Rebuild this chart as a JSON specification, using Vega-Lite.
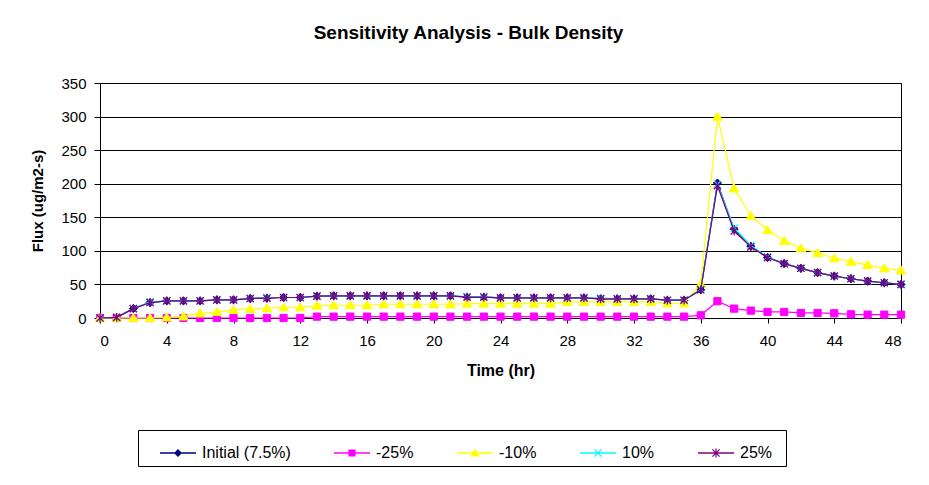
{
  "$schema": "https://vega.github.io/schema/vega-lite/v6.json",
  "width": 801,
  "height": 235,
  "autosize": {"type": "none"},
  "padding": {"left": 100, "top": 83, "right": 28, "bottom": 167},
  "background": "white",
  "title": {"text": "Sensitivity Analysis - Bulk Density", "font": "Liberation Sans", "fontSize": 19, "fontWeight": "bold", "color": "black", "anchor": "middle", "frame": "group", "dx": -32, "baseline": "alphabetic", "offset": 18},
  "datasets": {
    "initial": [
      {"hr":0,"flux":0},{"hr":1,"flux":1},{"hr":2,"flux":14},{"hr":3,"flux":23},{"hr":4,"flux":25.5},{"hr":5,"flux":25.5},{"hr":6,"flux":25.5},{"hr":7,"flux":27},{"hr":8,"flux":27},{"hr":9,"flux":29},
      {"hr":10,"flux":29.5},{"hr":11,"flux":30.5},{"hr":12,"flux":30.5},{"hr":13,"flux":32.5},{"hr":14,"flux":33},{"hr":15,"flux":33},{"hr":16,"flux":33},{"hr":17,"flux":33},{"hr":18,"flux":33},{"hr":19,"flux":33},
      {"hr":20,"flux":33},{"hr":21,"flux":33},{"hr":22,"flux":31},{"hr":23,"flux":31},{"hr":24,"flux":30},{"hr":25,"flux":30},{"hr":26,"flux":30},{"hr":27,"flux":30},{"hr":28,"flux":30},{"hr":29,"flux":30},
      {"hr":30,"flux":28.5},{"hr":31,"flux":28.5},{"hr":32,"flux":28.5},{"hr":33,"flux":28.5},{"hr":34,"flux":26.5},{"hr":35,"flux":26.5},{"hr":36,"flux":42},{"hr":37,"flux":201},{"hr":38,"flux":132},{"hr":39,"flux":107},
      {"hr":40,"flux":90},{"hr":41,"flux":81},{"hr":42,"flux":74},{"hr":43,"flux":67.5},{"hr":44,"flux":62.5},{"hr":45,"flux":58.5},{"hr":46,"flux":55},{"hr":47,"flux":52.5},{"hr":48,"flux":50}
    ],
    "minus25": [
      {"hr":0,"flux":0},{"hr":1,"flux":0},{"hr":2,"flux":0},{"hr":3,"flux":0},{"hr":4,"flux":0},{"hr":5,"flux":0},{"hr":6,"flux":0},{"hr":7,"flux":0},{"hr":8,"flux":0},{"hr":9,"flux":0},
      {"hr":10,"flux":0},{"hr":11,"flux":0},{"hr":12,"flux":0},{"hr":13,"flux":2},{"hr":14,"flux":2},{"hr":15,"flux":2},{"hr":16,"flux":2},{"hr":17,"flux":2},{"hr":18,"flux":2},{"hr":19,"flux":2},
      {"hr":20,"flux":2},{"hr":21,"flux":2},{"hr":22,"flux":2},{"hr":23,"flux":2},{"hr":24,"flux":2},{"hr":25,"flux":2},{"hr":26,"flux":2},{"hr":27,"flux":2},{"hr":28,"flux":2},{"hr":29,"flux":2},
      {"hr":30,"flux":2},{"hr":31,"flux":2},{"hr":32,"flux":2},{"hr":33,"flux":2},{"hr":34,"flux":2},{"hr":35,"flux":2},{"hr":36,"flux":4},{"hr":37,"flux":25},{"hr":38,"flux":14},{"hr":39,"flux":11},
      {"hr":40,"flux":9},{"hr":41,"flux":9},{"hr":42,"flux":7.5},{"hr":43,"flux":7.5},{"hr":44,"flux":7},{"hr":45,"flux":5.5},{"hr":46,"flux":5},{"hr":47,"flux":5},{"hr":48,"flux":5}
    ],
    "minus10": [
      {"hr":0,"flux":0},{"hr":1,"flux":0},{"hr":2,"flux":0},{"hr":3,"flux":0},{"hr":4,"flux":1},{"hr":5,"flux":2.5},{"hr":6,"flux":7},{"hr":7,"flux":9},{"hr":8,"flux":12},{"hr":9,"flux":13.5},
      {"hr":10,"flux":14.5},{"hr":11,"flux":16},{"hr":12,"flux":16},{"hr":13,"flux":18.5},{"hr":14,"flux":19},{"hr":15,"flux":19},{"hr":16,"flux":19},{"hr":17,"flux":20.5},{"hr":18,"flux":20.5},{"hr":19,"flux":20.5},
      {"hr":20,"flux":20.5},{"hr":21,"flux":20.5},{"hr":22,"flux":21.5},{"hr":23,"flux":21.5},{"hr":24,"flux":21.5},{"hr":25,"flux":21.5},{"hr":26,"flux":21.5},{"hr":27,"flux":21.5},{"hr":28,"flux":24},{"hr":29,"flux":24},
      {"hr":30,"flux":24},{"hr":31,"flux":24},{"hr":32,"flux":24},{"hr":33,"flux":24},{"hr":34,"flux":22},{"hr":35,"flux":22},{"hr":36,"flux":51},{"hr":37,"flux":300},{"hr":38,"flux":193},{"hr":39,"flux":152},
      {"hr":40,"flux":131},{"hr":41,"flux":115},{"hr":42,"flux":104},{"hr":43,"flux":97},{"hr":44,"flux":89},{"hr":45,"flux":84},{"hr":46,"flux":79},{"hr":47,"flux":74},{"hr":48,"flux":71}
    ],
    "plus10": [
      {"hr":0,"flux":0},{"hr":1,"flux":1},{"hr":2,"flux":14},{"hr":3,"flux":24},{"hr":4,"flux":25.5},{"hr":5,"flux":25.5},{"hr":6,"flux":25.5},{"hr":7,"flux":27},{"hr":8,"flux":27},{"hr":9,"flux":29},
      {"hr":10,"flux":30.5},{"hr":11,"flux":30.5},{"hr":12,"flux":30.5},{"hr":13,"flux":32.5},{"hr":14,"flux":33},{"hr":15,"flux":33},{"hr":16,"flux":33},{"hr":17,"flux":33},{"hr":18,"flux":33},{"hr":19,"flux":33},
      {"hr":20,"flux":33},{"hr":21,"flux":33},{"hr":22,"flux":32},{"hr":23,"flux":32},{"hr":24,"flux":30},{"hr":25,"flux":30},{"hr":26,"flux":30},{"hr":27,"flux":30},{"hr":28,"flux":30},{"hr":29,"flux":30},
      {"hr":30,"flux":29.5},{"hr":31,"flux":28.5},{"hr":32,"flux":28.5},{"hr":33,"flux":28.5},{"hr":34,"flux":26.5},{"hr":35,"flux":26.5},{"hr":36,"flux":43},{"hr":37,"flux":199},{"hr":38,"flux":134},{"hr":39,"flux":108},
      {"hr":40,"flux":91},{"hr":41,"flux":81},{"hr":42,"flux":74},{"hr":43,"flux":67.5},{"hr":44,"flux":62.5},{"hr":45,"flux":58.5},{"hr":46,"flux":55},{"hr":47,"flux":52.5},{"hr":48,"flux":50}
    ],
    "plus25": [
      {"hr":0,"flux":0},{"hr":1,"flux":1},{"hr":2,"flux":14},{"hr":3,"flux":23},{"hr":4,"flux":25.5},{"hr":5,"flux":25.5},{"hr":6,"flux":25.5},{"hr":7,"flux":27},{"hr":8,"flux":27},{"hr":9,"flux":29},
      {"hr":10,"flux":29.5},{"hr":11,"flux":30.5},{"hr":12,"flux":30.5},{"hr":13,"flux":32.5},{"hr":14,"flux":33},{"hr":15,"flux":33},{"hr":16,"flux":33},{"hr":17,"flux":33},{"hr":18,"flux":33},{"hr":19,"flux":33},
      {"hr":20,"flux":33},{"hr":21,"flux":33},{"hr":22,"flux":31},{"hr":23,"flux":31},{"hr":24,"flux":30},{"hr":25,"flux":30},{"hr":26,"flux":30},{"hr":27,"flux":30},{"hr":28,"flux":30},{"hr":29,"flux":30},
      {"hr":30,"flux":28.5},{"hr":31,"flux":28.5},{"hr":32,"flux":28.5},{"hr":33,"flux":28.5},{"hr":34,"flux":26.5},{"hr":35,"flux":26.5},{"hr":36,"flux":42},{"hr":37,"flux":197},{"hr":38,"flux":129.5},{"hr":39,"flux":106},
      {"hr":40,"flux":90},{"hr":41,"flux":81},{"hr":42,"flux":74},{"hr":43,"flux":67.5},{"hr":44,"flux":62.5},{"hr":45,"flux":58.5},{"hr":46,"flux":55},{"hr":47,"flux":52.5},{"hr":48,"flux":50}
    ],
    "series": [
      {"series":"Initial (7.5%)"},{"series":"-25%"},{"series":"-10%"},{"series":"10%"},{"series":"25%"}
    ]
  },
  "encoding": {
    "x": {"field": "hr", "type": "quantitative", "scale": {"domain": [0, 48], "nice": false, "zero": false},
      "axis": {"values": [0,4,8,12,16,20,24,28,32,36,40,44,48], "title": "Time (hr)", "grid": false, "titleFontSize": 16}},
    "y": {"field": "flux", "type": "quantitative", "scale": {"domain": [0, 350], "nice": false},
      "axis": {"values": [0,50,100,150,200,250,300,350], "title": "Flux (ug/m2-s)", "grid": true}}
  },
  "layer": [
    {"data": {"name": "initial"},
     "mark": {"type": "line", "color": "#000080", "strokeWidth": 1.2,
       "point": {"shape": "M0,-1L1,0L0,1L-1,0Z", "size": 64, "filled": true, "fill": "#000080", "stroke": "#000080", "strokeWidth": 1, "opacity": 1}}},
    {"data": {"name": "minus25"},
     "mark": {"type": "line", "color": "#FF00FF", "strokeWidth": 1.2,
       "point": {"shape": "M-0.9,-0.9H0.9V0.9H-0.9Z", "size": 64, "filled": true, "fill": "#FF00FF", "stroke": "#FF00FF", "strokeWidth": 1, "opacity": 1}}},
    {"data": {"name": "minus10"},
     "mark": {"type": "line", "color": "#FFFF00", "strokeWidth": 1.2,
       "point": {"shape": "M0,-1.1L1.2,0.9H-1.2Z", "size": 64, "filled": true, "fill": "#FFFF00", "stroke": "#FFFF00", "strokeWidth": 1, "opacity": 1}}},
    {"data": {"name": "plus10"},
     "mark": {"type": "line", "color": "#00FFFF", "strokeWidth": 1.2,
       "point": {"shape": "M-0.9,-0.9L0.9,0.9M-0.9,0.9L0.9,-0.9", "size": 64, "filled": false, "fill": "#00FFFF", "stroke": "#00FFFF", "strokeWidth": 1.3, "opacity": 1}}},
    {"data": {"name": "plus25"},
     "mark": {"type": "line", "color": "#800080", "strokeWidth": 1.2,
       "point": {"shape": "M-0.9,-0.9L0.9,0.9M-0.9,0.9L0.9,-0.9M0,-1.1V1.1", "size": 64, "filled": false, "fill": "#800080", "stroke": "#800080", "strokeWidth": 1.3, "opacity": 1}}},
    {"data": {"name": "series"},
     "transform": [{"filter": {"field": "series", "equal": "__none__"}}],
     "mark": {"type": "point", "filled": true, "size": 1296, "opacity": 1},
     "encoding": {
       "x": {"value": 0}, "y": {"value": 0},
       "color": {"field": "series", "type": "nominal",
         "scale": {"domain": ["Initial (7.5%)", "-25%", "-10%", "10%", "25%"], "range": ["#000080", "#FF00FF", "#FFFF00", "#00FFFF", "#800080"]},
         "legend": {"title": " ", "titleOrient": "left", "titleFontSize": 1, "titlePadding": 17, "orient": "none", "legendX": 38, "legendY": 347, "direction": "horizontal", "columns": 5,
           "strokeColor": "black", "padding": 5, "labelFont": "Liberation Sans", "labelFontSize": 16, "labelColor": "black",
           "symbolSize": 1296, "labelOffset": 6, "columnPadding": 43, "symbolStrokeWidth": 0, "symbolOpacity": 1}},
       "shape": {"field": "series", "type": "nominal",
         "scale": {"domain": ["Initial (7.5%)", "-25%", "-10%", "10%", "25%"],
           "range": [
             "M-1,-0.036H1V0.036H-1ZM0,-0.222L0.222,0L0,0.222L-0.222,0Z",
             "M-1,-0.036H1V0.036H-1ZM-0.2,-0.2H0.2V0.2H-0.2Z",
             "M-1,-0.036H1V0.036H-1ZM0,-0.244L0.267,0.2L-0.267,0.2Z",
             "M-1,-0.036H1V0.036H-1ZM-0.176,-0.224L0.224,0.176L0.176,0.224L-0.224,-0.176ZM0.176,-0.224L0.224,-0.176L-0.176,0.224L-0.224,0.176Z",
             "M3.6,0M-1,-0.036H1V0.036H-1ZM-0.176,-0.224L0.224,0.176L0.176,0.224L-0.224,-0.176ZM0.176,-0.224L0.224,-0.176L-0.176,0.224L-0.224,0.176ZM-0.033,-0.244L0.033,-0.244L0.033,0.244L-0.033,0.244Z"
           ]},
         "legend": {"title": " ", "titleOrient": "left", "titleFontSize": 1, "titlePadding": 17, "orient": "none", "legendX": 38, "legendY": 347, "direction": "horizontal", "columns": 5,
           "strokeColor": "black", "padding": 5, "labelFont": "Liberation Sans", "labelFontSize": 16, "labelColor": "black",
           "symbolSize": 1296, "labelOffset": 6, "columnPadding": 43, "symbolStrokeWidth": 0, "symbolOpacity": 1}}
     }}
  ],
  "config": {
    "font": "Liberation Sans",
    "view": {"stroke": "black", "strokeWidth": 1},
    "axis": {"labelFont": "Liberation Sans", "labelFontSize": 15, "labelColor": "black", "titleFont": "Liberation Sans", "titleFontSize": 15, "titleFontWeight": "bold", "titleColor": "black", "domainColor": "black", "tickColor": "black", "gridColor": "black", "gridWidth": 1, "domainWidth": 1, "gridOpacity": 1},
    "axisX": {"tickSize": 5, "labelPadding": 10, "titlePadding": 14},
    "axisY": {"tickSize": 6, "labelPadding": 8, "titlePadding": 15}
  }
}
